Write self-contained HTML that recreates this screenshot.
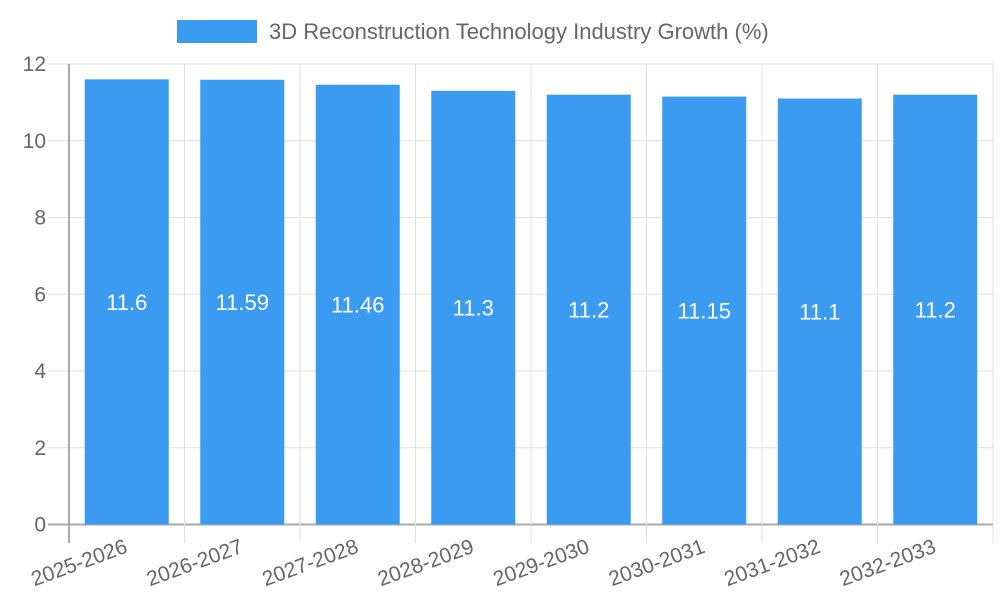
<!DOCTYPE html>
<html><head><meta charset="utf-8"><style>
body{margin:0;background:#fff;}
svg{display:block;font-family:"Liberation Sans",sans-serif;}
</style></head><body>
<svg id="chart" width="1000" height="600">
<g>
<rect x="177" y="20" width="80" height="23" fill="#3a9bf0"/>
<text x="269" y="39" font-size="22" fill="#666">3D Reconstruction Technology Industry Growth (%)</text>
</g>
<g id="grid"></g><g id="bars"></g><g id="labels"></g>
</svg>
<script>
const categories=["2025-2026","2026-2027","2027-2028","2028-2029","2029-2030","2030-2031","2031-2032","2032-2033"];
const values=[11.6,11.59,11.46,11.3,11.2,11.15,11.1,11.2];
const yTicks=[0,2,4,6,8,10,12];
const NS="http://www.w3.org/2000/svg";
const x0=69,x1=993,yTop=64,yBot=524.5,yMax=12;
const bw=(x1-x0)/categories.length;
const y=v=>yBot-(v/yMax)*(yBot-yTop);
const xc=i=>x0+bw*(i+0.5);
function mk(tag,attrs,parent){const e=document.createElementNS(NS,tag);for(const k in attrs)e.setAttribute(k,attrs[k]);parent.appendChild(e);return e;}
const grid=document.getElementById('grid'),bars=document.getElementById('bars'),labels=document.getElementById('labels');
yTicks.forEach(t=>{
 const l=mk('line',{x1:48,x2:x1,y1:y(t),y2:y(t),stroke:t===0?'#aaa':'#e0e0e0','stroke-width':t===0?2:1},grid);
 
 
 const tx=mk('text',{x:46,y:y(t)+7,'text-anchor':'end','font-size':21,fill:'#666'},grid);
 tx.textContent=t;
 
 
});
for(let i=0;i<=categories.length;i++){
 const gx=x0+bw*i;
 const l=mk('line',{x1:gx,x2:gx,y1:yTop,y2:543,stroke:i===0?'#aaa':'#e0e0e0','stroke-width':i===0?2:1},grid);
 
 
}
categories.forEach((c,i)=>{
 const r=mk('rect',{x:xc(i)-42,y:y(values[i]),width:84,height:yBot-y(values[i]),fill:'#3a9bf0'},bars);
 
 
 const v=mk('text',{x:xc(i),y:(y(values[i])+yBot)/2+8,'text-anchor':'middle','font-size':22,fill:'#fff'},labels);
 v.textContent=values[i];
 
 
 const t=mk('text',{'text-anchor':'end','font-size':21,fill:'#666',transform:`translate(${xc(i)+2},${552}) rotate(-20)`},labels);
 t.textContent=c;
 
 
});
</script>
</body></html>
